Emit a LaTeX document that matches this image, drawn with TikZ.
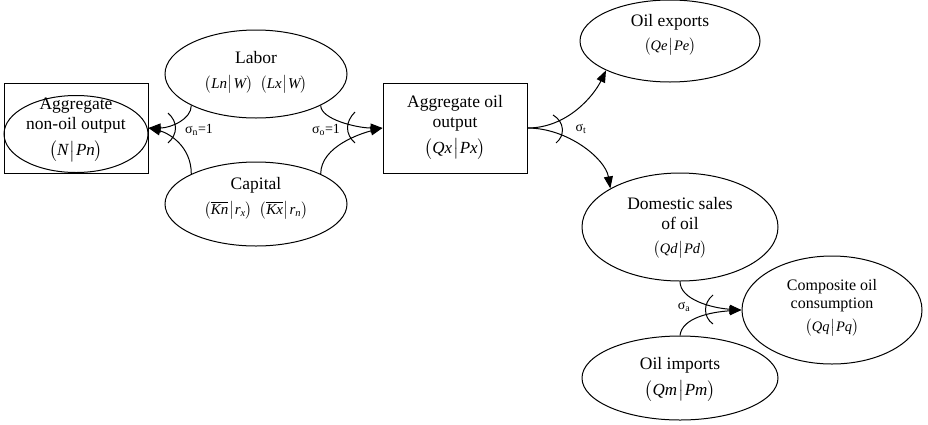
\documentclass[tikz,border=0pt]{standalone}
\usepackage{amsmath}
\usepackage{fontspec}
\setmainfont{Liberation Serif}
\usetikzlibrary{arrows.meta,shapes.geometric}
\newcommand{\mv}[1]{\textit{#1}}
\newcommand{\fx}[2]{$\bigl(\mv{#1}\mkern1mu\big|\mkern1mu\mv{#2}\bigr)$}
\newcommand{\fsz}[1]{\fontsize{#1}{#1}\selectfont}
\tikzset{
  ell/.style={draw, ellipse, inner sep=0pt, line width=1pt},
  boxn/.style={draw, rectangle, inner sep=0pt, line width=1pt},
  txt/.style={align=center, inner sep=0pt, font=\fontsize{17.5}{20}\selectfont},
  stxt/.style={align=center, inner sep=0pt, font=\fontsize{16}{18}\selectfont},
  con/.style={line width=1pt, -{Triangle[length=12pt,width=9pt]}},
  arcl/.style={line width=1pt},
  sig/.style={inner sep=0pt, font=\fontsize{14}{16}\selectfont}
}
\begin{document}
\begin{tikzpicture}[x=1pt,y=-1pt]
\useasboundingbox (0,0) rectangle (928,424);

% left box
\node[boxn, minimum width=144, minimum height=90] (nbox) at (76,128) {};
\node[ell, minimum width=144, minimum height=77] (nell) at (76,134) {};
\node[txt] (ntxt) at (76,130) {Aggregate\\non-oil output\\[6pt]{\fsz{17}\fx{N}{Pn}}};

% labor and capital
\node[ell, minimum width=182, minimum height=88] (labor) at (256,74) {};
\node[txt] (labortxt) at (256,72) {Labor\\[5pt]{\fsz{15}\fx{Ln}{W}\ \ \fx{Lx}{W}}};
\node[ell, minimum width=182, minimum height=84] (capital) at (256,204) {};
\node[txt] (capitaltxt) at (256,198) {Capital\\[5pt]{\fsz{15}$\bigl(\overline{\mv{Kn}}\mkern1mu\big|\mkern1mu\mv{r}_{\mv{x}}\bigr)$\ \ $\bigl(\overline{\mv{Kx}}\mkern1mu\big|\mkern1mu\mv{r}_{\mv{n}}\bigr)$}};

% oil box
\node[boxn, minimum width=144, minimum height=90] (obox) at (455,128) {};
\node[txt] (otxt) at (455,127) {Aggregate oil\\output\\[6pt]{\fsz{17}\fx{Qx}{Px}}};

% right side
\node[ell, minimum width=180, minimum height=82] (exports) at (670,41) {};
\node[txt] (exportstxt) at (670,35) {Oil exports\\[4pt]{\fsz{14.5}\fx{Qe}{Pe}}};
\node[ell, minimum width=196, minimum height=108] (domestic) at (680,227) {};
\node[txt] (domestictxt) at (680,228) {Domestic sales\\of oil\\[4pt]{\fsz{14.5}\fx{Qd}{Pd}}};
\node[ell, minimum width=180, minimum height=108] (composite) at (832,310) {};
\node[stxt] (compositetxt) at (832,308) {Composite oil\\consumption\\[5pt]{\fsz{14.5}\fx{Qq}{Pq}}};
\node[ell, minimum width=196, minimum height=84] (imports) at (680,378) {};
\node[txt] (importstxt) at (680,379) {Oil imports\\[6pt]{\fsz{17}\fx{Qm}{Pm}}};

% connectors
\draw[con] (labor.south west) .. controls +(0,14) and +(22,0) .. (nbox.east);
\draw[con] (capital.north west) .. controls +(0,-28) and +(20,5) .. (nbox.east);
\draw[con] (labor.south east) .. controls +(0,14) and +(-25,0) .. (obox.west);
\draw[con] (capital.north east) .. controls +(0,-28) and +(-20,5) .. (obox.west);
\draw[con] (obox.east) .. controls +(40,0) and +(-12,25) .. (exports.south west);
\draw[con] (obox.east) .. controls +(40,0) and +(-5,-30) .. (domestic.north west);
\draw[con] (domestic.south) .. controls +(0,18) and +(-30,-2) .. (composite.west);
\draw[con] (imports.north) .. controls +(2,-18) and +(-30,2) .. (composite.west);

% substitution arcs
\draw[arcl] (168,113) .. controls (178,122) and (178,134) .. (168,143);
\draw[arcl] (355,112) .. controls (345,122) and (345,134) .. (355,143);
\draw[arcl] (553,115) .. controls (565,122) and (565,136) .. (556,143);
\draw[arcl] (713,295) .. controls (703,303) and (703,317) .. (713,324);

% labels
\node[sig] (sn) at (199,130) {σ\textsubscript{n}=1};
\node[sig] (so) at (326,130) {σ\textsubscript{o}=1};
\node[sig] (st) at (581,129) {σ\textsubscript{t}};
\node[sig] (sa) at (684,307) {σ\textsubscript{a}};
\end{tikzpicture}
\end{document}
